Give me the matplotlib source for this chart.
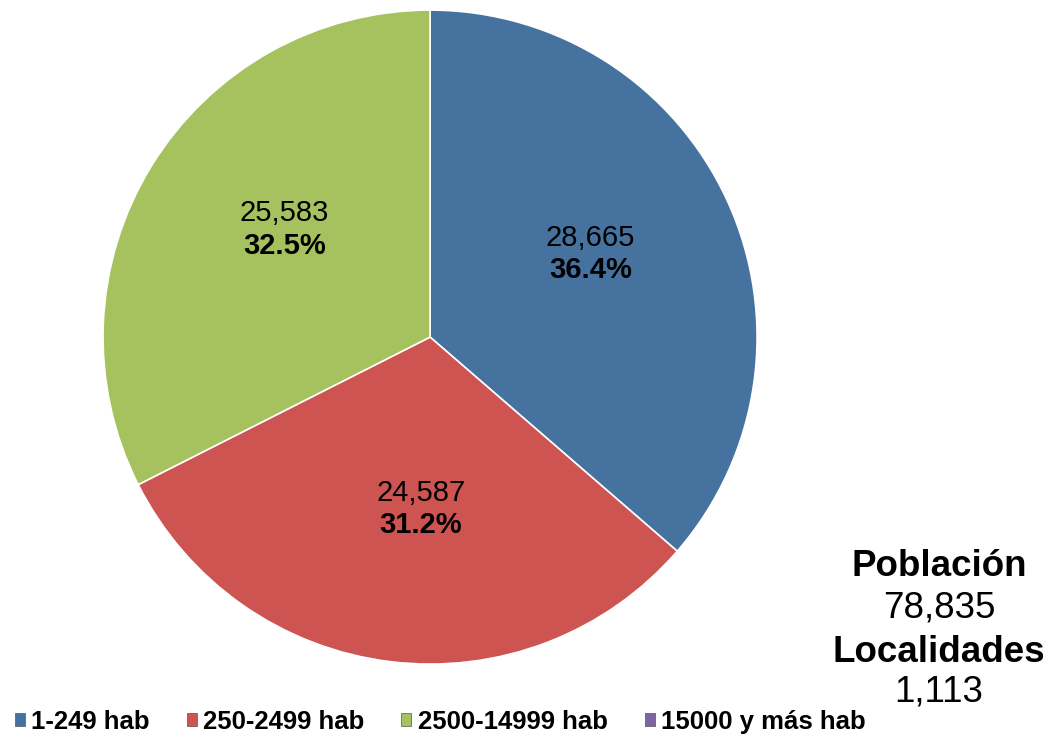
import matplotlib.pyplot as plt
from matplotlib.patches import Patch

plt.rcParams['font.family'] = ['Liberation Sans', 'DejaVu Sans']

# data
categorias = ['1-249 hab', '250-2499 hab', '2500-14999 hab', '15000 y más hab']
poblacion = [28665, 24587, 25583, 0]
colores = ['#45729f', '#cd5451', '#a6c25e', '#7e63a0']
total_poblacion = 78835
total_localidades = 1113

fig = plt.figure(figsize=(10.59, 7.42), dpi=100)
ax = fig.add_axes([0.0973, 0.105, 0.6176, 0.8814])

vals = [v for v in poblacion if v > 0]
cols = [c for v, c in zip(poblacion, colores) if v > 0]
wedges, _ = ax.pie(vals, colors=cols, startangle=90, counterclock=False, radius=1,
                   wedgeprops=dict(edgecolor='white', linewidth=1.2))
ax.set_xlim(-1, 1)
ax.set_ylim(-1, 1)
ax.set_aspect('auto')
ax.axis('off')

# label positions (fraction of radius)
pos = [(0.49, 0.254), (-0.028, -0.526), (-0.446, 0.33)]
tot = sum(vals)
for v, (x, y) in zip(vals, pos):
    ax.text(x, y + 0.05, f'{v:,}', ha='center', va='center', fontsize=21)
    ax.text(x, y - 0.05, f'{v / tot * 100:.1f}%', ha='center', va='center',
            fontsize=21, fontweight='bold')

fx = 939 / 1059
fig.text(fx, 1 - 567 / 742, 'Población', ha='center', va='center', fontsize=26.5, fontweight='bold')
fig.text(fx, 1 - 608 / 742, f'{total_poblacion:,}', ha='center', va='center', fontsize=26.5)
fig.text(fx, 1 - 652 / 742, 'Localidades', ha='center', va='center', fontsize=26.5, fontweight='bold')
fig.text(fx, 1 - 692 / 742, f'{total_localidades:,}', ha='center', va='center', fontsize=26.5)

handles = [Patch(facecolor=c, edgecolor='#555555', linewidth=0.5) for c in colores]
leg = fig.legend(handles, categorias, loc='center left', bbox_to_anchor=(0.014, 1 - 722 / 742),
                 ncol=4, frameon=False, handlelength=0.38, handleheight=0.38, handletextpad=0.25,
                 columnspacing=1.45, prop={'size': 18.5, 'weight': 'bold'}, borderaxespad=0,
                 borderpad=0)

fig.savefig('out.png', dpi=100)
